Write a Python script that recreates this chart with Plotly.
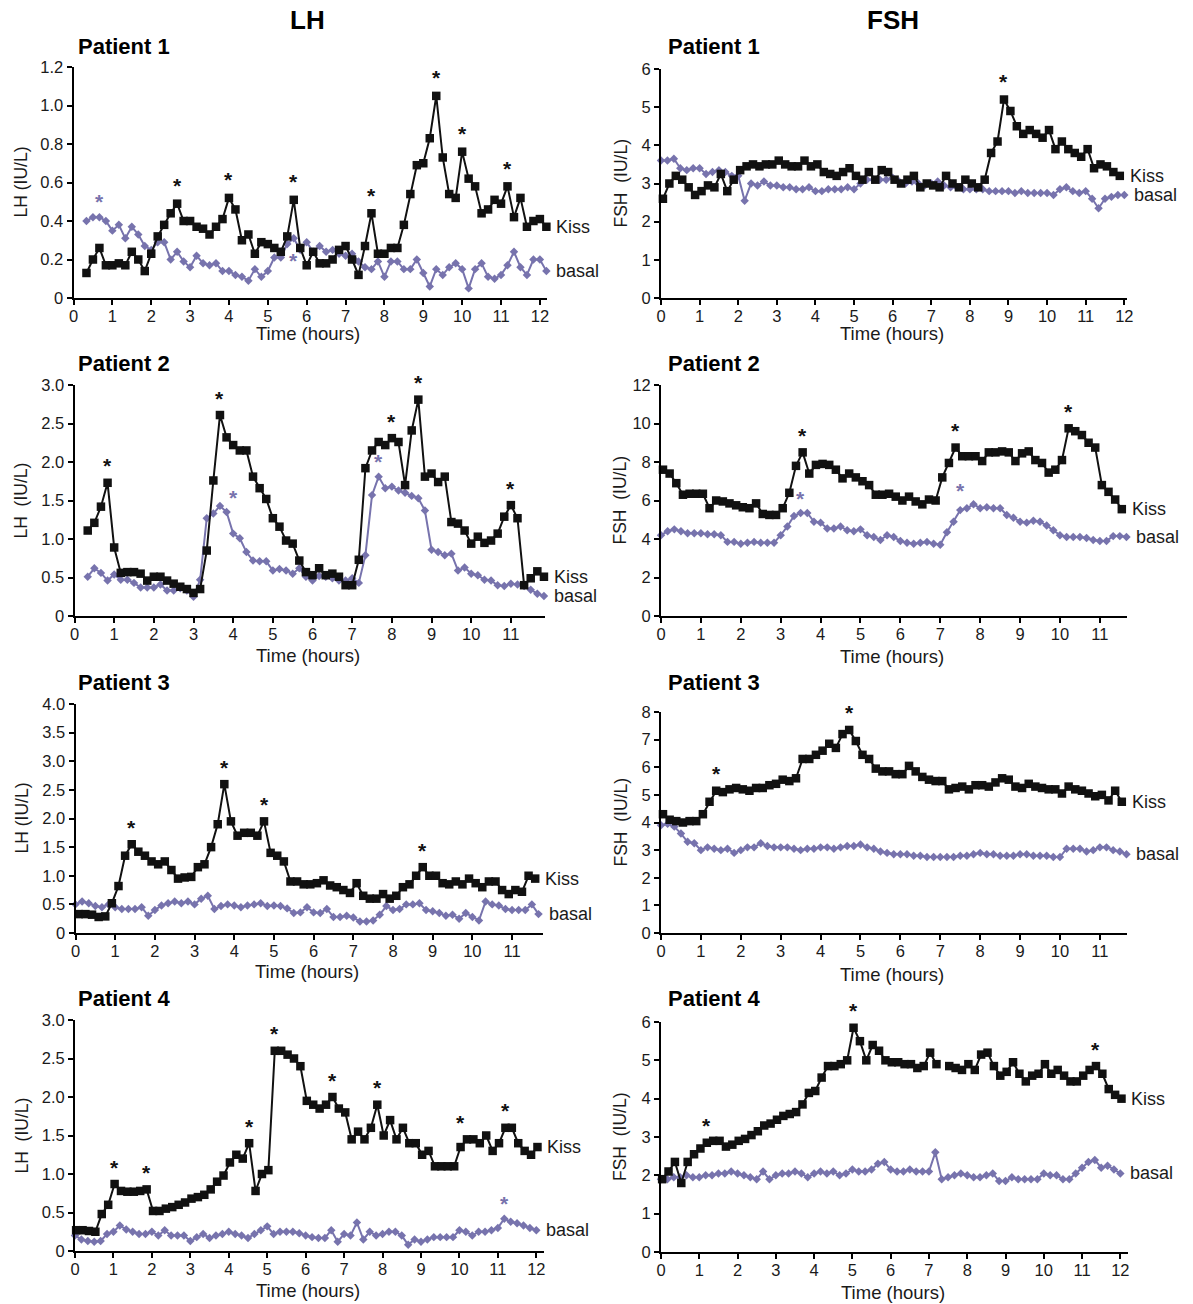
import plotly.graph_objects as go

W, H = 1193, 1304
KISS_COLOR = "#111111"
BASAL_COLOR = "#7773ad"
FONT = "Liberation Sans, Arial, sans-serif"
STEP = 1 / 6  # samples every ten minutes

# ---------------- LH ----------------
lh1_kiss_start = 1 / 3
lh1_kiss = [0.13, 0.20, 0.26, 0.17, 0.17, 0.18, 0.17, 0.24, 0.20, 0.14,
            0.23, 0.32, 0.38, 0.44, 0.49, 0.40, 0.40, 0.37, 0.36, 0.33,
            0.37, 0.41, 0.52, 0.46, 0.30, 0.33, 0.23, 0.29, 0.28, 0.26,
            0.24, 0.32, 0.51, 0.26, 0.17, 0.24, 0.18, 0.18, 0.20, 0.25,
            0.27, 0.20, 0.12, 0.27, 0.44, 0.23, 0.23, 0.26, 0.26, 0.38,
            0.54, 0.69, 0.70, 0.83, 1.05, 0.73, 0.54, 0.52, 0.76, 0.62,
            0.58, 0.44, 0.46, 0.51, 0.49, 0.58, 0.42, 0.52, 0.37, 0.40,
            0.41, 0.37]
lh1_basal_start = 1 / 3
lh1_basal = [0.40, 0.42, 0.42, 0.40, 0.35, 0.38, 0.31, 0.37, 0.33, 0.27,
             0.25, 0.29, 0.29, 0.20, 0.24, 0.19, 0.16, 0.22, 0.18, 0.17,
             0.18, 0.14, 0.14, 0.12, 0.11, 0.09, 0.15, 0.11, 0.14, 0.21,
             0.21, 0.28, 0.31, 0.25, 0.29, 0.24, 0.27, 0.24, 0.25, 0.23,
             0.22, 0.23, 0.19, 0.16, 0.15, 0.19, 0.11, 0.19, 0.19, 0.15,
             0.15, 0.20, 0.13, 0.06, 0.15, 0.12, 0.16, 0.18, 0.15, 0.05,
             0.15, 0.18, 0.11, 0.10, 0.12, 0.17, 0.24, 0.16, 0.12, 0.20,
             0.20, 0.14]

lh2_kiss_start = 1 / 3
lh2_kiss = [1.11, 1.21, 1.42, 1.73, 0.89, 0.56, 0.57, 0.57, 0.55, 0.46,
            0.51, 0.51, 0.46, 0.42, 0.38, 0.35, 0.30, 0.35, 0.85, 1.76,
            2.61, 2.32, 2.22, 2.15, 2.15, 1.81, 1.66, 1.52, 1.27, 1.16,
            0.98, 0.94, 0.72, 0.57, 0.53, 0.62, 0.53, 0.55, 0.51, 0.40,
            0.40, 0.73, 1.92, 2.15, 2.26, 2.22, 2.31, 2.26, 1.70, 2.41,
            2.81, 1.81, 1.85, 1.74, 1.81, 1.22, 1.20, 1.11, 0.94, 1.03,
            0.95, 0.98, 1.07, 1.29, 1.44, 1.27, 0.40, 0.49, 0.58, 0.51]
lh2_basal_start = 1 / 3
lh2_basal = [0.51, 0.62, 0.56, 0.46, 0.54, 0.47, 0.47, 0.43, 0.37, 0.37,
             0.37, 0.41, 0.33, 0.33, 0.36, 0.33, 0.25, 0.47, 1.27, 1.33,
             1.43, 1.35, 1.07, 1.01, 0.83, 0.72, 0.71, 0.71, 0.59, 0.61,
             0.59, 0.55, 0.62, 0.51, 0.46, 0.52, 0.51, 0.49, 0.46, 0.46,
             0.49, 0.43, 0.79, 1.57, 1.81, 1.66, 1.68, 1.63, 1.60, 1.56,
             1.53, 1.37, 0.86, 0.83, 0.79, 0.81, 0.59, 0.63, 0.55, 0.53,
             0.47, 0.46, 0.40, 0.39, 0.42, 0.41, 0.39, 0.34, 0.29, 0.26]

lh3_kiss_start = 1 / 12
lh3_kiss = [0.33, 0.33, 0.32, 0.28, 0.29, 0.52, 0.82, 1.35, 1.55, 1.42,
            1.35, 1.25, 1.20, 1.25, 1.10, 0.95, 0.97, 0.98, 1.15, 1.20,
            1.50, 1.90, 2.60, 1.95, 1.70, 1.75, 1.75, 1.70, 1.95, 1.40,
            1.35, 1.25, 0.90, 0.90, 0.85, 0.85, 0.87, 0.92, 0.83, 0.80,
            0.75, 0.70, 0.87, 0.65, 0.60, 0.60, 0.68, 0.60, 0.65, 0.80,
            0.85, 1.00, 1.15, 1.00, 1.00, 0.87, 0.85, 0.90, 0.85, 0.95,
            0.87, 0.80, 0.90, 0.90, 0.75, 0.68, 0.75, 0.72, 1.00, 0.95]
lh3_basal_start = 0.0
lh3_basal = [0.50, 0.55, 0.52, 0.47, 0.45, 0.50, 0.45, 0.42, 0.42, 0.42,
             0.45, 0.30, 0.40, 0.48, 0.52, 0.55, 0.52, 0.55, 0.50, 0.60,
             0.65, 0.42, 0.47, 0.50, 0.48, 0.45, 0.48, 0.50, 0.52, 0.47,
             0.48, 0.47, 0.43, 0.35, 0.36, 0.45, 0.36, 0.35, 0.42, 0.28,
             0.28, 0.30, 0.27, 0.20, 0.20, 0.22, 0.32, 0.47, 0.40, 0.42,
             0.50, 0.50, 0.52, 0.40, 0.38, 0.35, 0.30, 0.32, 0.25, 0.35,
             0.28, 0.22, 0.55, 0.50, 0.48, 0.42, 0.40, 0.40, 0.40, 0.50,
             0.33]

lh4_kiss_start = 0.03
lh4_kiss = [0.27, 0.27, 0.26, 0.25, 0.48, 0.60, 0.87, 0.78, 0.77, 0.77,
            0.78, 0.80, 0.52, 0.52, 0.55, 0.57, 0.60, 0.63, 0.68, 0.70,
            0.73, 0.80, 0.90, 0.98, 1.15, 1.25, 1.20, 1.40, 0.78, 1.00,
            1.05, 2.60, 2.60, 2.55, 2.50, 2.40, 1.95, 1.90, 1.85, 1.90,
            2.00, 1.85, 1.80, 1.45, 1.55, 1.45, 1.60, 1.90, 1.50, 1.70,
            1.45, 1.60, 1.40, 1.40, 1.25, 1.30, 1.10, 1.10, 1.10, 1.10,
            1.35, 1.45, 1.45, 1.40, 1.50, 1.30, 1.40, 1.60, 1.60, 1.40,
            1.30, 1.25, 1.35]
lh4_basal_start = 0.0
lh4_basal = [0.20, 0.15, 0.13, 0.12, 0.13, 0.22, 0.25, 0.33, 0.28, 0.25,
             0.22, 0.22, 0.25, 0.20, 0.27, 0.20, 0.20, 0.20, 0.13, 0.18,
             0.22, 0.17, 0.20, 0.22, 0.25, 0.22, 0.20, 0.17, 0.22, 0.27,
             0.32, 0.22, 0.25, 0.25, 0.25, 0.23, 0.20, 0.18, 0.17, 0.17,
             0.27, 0.12, 0.22, 0.20, 0.37, 0.15, 0.25, 0.20, 0.22, 0.25,
             0.25, 0.20, 0.08, 0.15, 0.12, 0.15, 0.18, 0.18, 0.18, 0.18,
             0.27, 0.25, 0.20, 0.25, 0.25, 0.27, 0.30, 0.42, 0.38, 0.36,
             0.33, 0.30, 0.27]

# ---------------- FSH ----------------
fsh1_kiss_start = 0.05
fsh1_kiss = [2.6, 3.0, 3.2, 3.1, 2.9, 2.7, 2.8, 2.95, 2.9, 3.25,
             2.8, 3.1, 3.35, 3.45, 3.5, 3.45, 3.5, 3.5, 3.6, 3.5,
             3.45, 3.45, 3.6, 3.45, 3.5, 3.3, 3.25, 3.2, 3.3, 3.4,
             3.2, 3.1, 3.3, 3.1, 3.35, 3.3, 3.1, 3.0, 3.1, 3.2,
             2.9, 3.0, 2.95, 2.9, 3.2, 3.0, 2.9, 3.1, 3.0, 2.9,
             3.1, 3.8, 4.1, 5.2, 4.9, 4.5, 4.3, 4.4, 4.3, 4.2,
             4.4, 3.9, 4.1, 3.9, 3.8, 3.7, 3.9, 3.4, 3.5, 3.45,
             3.3, 3.2]
fsh1_basal_start = 0.0
fsh1_basal = [3.6, 3.6, 3.65, 3.4, 3.35, 3.4, 3.4, 3.25, 3.3, 3.35,
              3.3, 3.2, 3.2, 2.55, 3.0, 2.95, 3.05, 2.95, 2.95, 2.9,
              2.9, 2.85, 2.85, 2.9, 2.8, 2.8, 2.85, 2.85, 2.85, 2.9,
              2.85, 3.0, 3.1, 3.1, 3.1, 3.1, 3.15, 3.05, 3.0, 3.05,
              3.0, 2.95, 3.0, 3.05, 2.95, 2.9, 2.9, 2.85, 2.85, 2.85,
              2.85, 2.8, 2.8, 2.8, 2.8, 2.75, 2.8, 2.75, 2.75, 2.75,
              2.75, 2.7, 2.85, 2.9, 2.8, 2.75, 2.8, 2.6, 2.35, 2.6,
              2.65, 2.7, 2.7]

fsh2_kiss_start = 0.05
fsh2_kiss = [7.6, 7.4, 6.9, 6.3, 6.35, 6.35, 6.35, 5.6, 6.0, 5.95,
             5.85, 5.75, 5.65, 5.6, 5.85, 5.3, 5.25, 5.25, 5.6, 6.4,
             7.8, 8.5, 7.4, 7.85, 7.9, 7.85, 7.6, 7.15, 7.4, 7.2,
             7.0, 6.8, 6.3, 6.3, 6.35, 6.2, 6.0, 6.2, 5.95, 5.8,
             6.05, 6.0, 7.2, 7.95, 8.75, 8.3, 8.3, 8.3, 8.05, 8.5,
             8.5, 8.55, 8.5, 8.05, 8.45, 8.55, 8.1, 7.95, 7.45, 7.6,
             8.1, 9.75, 9.6, 9.4, 9.0, 8.75, 6.8, 6.45, 6.05, 5.55]
fsh2_basal_start = 0.0
fsh2_basal = [4.2, 4.4, 4.5, 4.4, 4.3, 4.3, 4.3, 4.25, 4.25, 4.2,
              3.85, 3.85, 3.75, 3.8, 3.85, 3.8, 3.8, 3.8, 4.2, 4.65,
              5.2, 5.35, 5.35, 4.9, 4.85, 4.55, 4.55, 4.65, 4.45, 4.4,
              4.5, 4.2, 4.1, 3.95, 4.2, 4.1, 3.9, 3.8, 3.75, 3.8,
              3.85, 3.75, 3.7, 4.35, 4.9, 5.5, 5.6, 5.8, 5.6, 5.65,
              5.6, 5.6, 5.25, 5.1, 4.9, 4.85, 4.95, 4.9, 4.7, 4.45,
              4.2, 4.1, 4.1, 4.1, 4.05, 3.95, 3.9, 3.9, 4.15, 4.15,
              4.1]

fsh3_kiss_start = 0.05
fsh3_kiss = [4.3, 4.1, 4.05, 4.0, 4.05, 4.05, 4.3, 4.75, 5.15, 5.1,
             5.2, 5.25, 5.2, 5.15, 5.25, 5.25, 5.35, 5.4, 5.55, 5.5,
             5.6, 6.3, 6.3, 6.45, 6.6, 6.85, 6.7, 7.2, 7.35, 6.95,
             6.45, 6.3, 5.95, 5.85, 5.85, 5.75, 5.75, 6.05, 5.85, 5.65,
             5.55, 5.5, 5.5, 5.2, 5.25, 5.3, 5.2, 5.35, 5.35, 5.3,
             5.45, 5.6, 5.55, 5.3, 5.25, 5.4, 5.3, 5.25, 5.2, 5.2,
             5.05, 5.3, 5.2, 5.15, 5.05, 4.95, 5.0, 4.8, 5.15, 4.75]
fsh3_basal_start = 0.0
fsh3_basal = [3.9, 3.95, 3.85, 3.6, 3.3, 3.25, 3.0, 3.1, 3.05, 3.0,
              3.05, 2.9, 3.0, 3.1, 3.1, 3.25, 3.15, 3.1, 3.1, 3.1,
              3.05, 3.0, 3.05, 3.05, 3.1, 3.1, 3.05, 3.1, 3.15, 3.15,
              3.2, 3.1, 3.05, 2.95, 2.9, 2.85, 2.85, 2.85, 2.8, 2.8,
              2.75, 2.75, 2.75, 2.75, 2.75, 2.8, 2.8, 2.85, 2.9, 2.85,
              2.85, 2.8, 2.8, 2.8, 2.85, 2.85, 2.8, 2.8, 2.8, 2.75,
              2.75, 3.05, 3.05, 3.05, 2.95, 3.0, 3.1, 3.1, 3.0, 2.95,
              2.85]

fsh4_kiss_start = 0.03
fsh4_kiss = [1.9, 2.1, 2.35, 1.8, 2.35, 2.55, 2.7, 2.85, 2.9, 2.9,
             2.75, 2.8, 2.9, 2.95, 3.05, 3.15, 3.3, 3.35, 3.45, 3.55,
             3.6, 3.65, 3.85, 4.15, 4.2, 4.55, 4.85, 4.85, 4.9, 5.0,
             5.85, 5.5, 5.0, 5.4, 5.25, 5.0, 4.95, 4.95, 4.9, 4.9,
             4.8, 4.85, 5.2, 4.9, None, 4.85, 4.8, 4.75, 4.9, 4.75,
             5.15, 5.2, 4.85, 4.6, 4.7, 4.95, 4.65, 4.45, 4.6, 4.65,
             4.9, 4.65, 4.75, 4.6, 4.45, 4.45, 4.6, 4.75, 4.85, 4.65,
             4.25, 4.1, 4.0]
fsh4_basal_start = 0.0
fsh4_basal = [1.9, 1.9, 1.95, 1.95, 2.0, 1.95, 1.95, 2.0, 2.0, 2.05,
              2.05, 2.1, 2.05, 2.0, 1.95, 1.9, 2.1, 1.9, 2.0, 2.05,
              2.05, 2.1, 2.05, 1.95, 2.05, 2.1, 2.05, 2.1, 2.0, 2.05,
              2.15, 2.1, 2.1, 2.15, 2.3, 2.35, 2.15, 2.1, 2.1, 2.15,
              2.1, 2.1, 2.1, 2.6, 1.9, 1.95, 2.0, 2.05, 2.0, 1.95,
              1.95, 2.0, 2.05, 1.85, 1.85, 1.95, 1.9, 1.9, 1.9, 1.9,
              2.05, 2.0, 2.0, 1.9, 1.9, 2.05, 2.2, 2.35, 2.4, 2.2,
              2.25, 2.15, 2.05]

# axis tick labels
lh_ticks_fine = [0, 0.2, 0.4, 0.6, 0.8, 1.0, 1.2]
lh_ticks_fine_text = ["0", "0.2", "0.4", "0.6", "0.8", "1.0", "1.2"]
lh_ticks_3 = [0, 0.5, 1.0, 1.5, 2.0, 2.5, 3.0]
lh_ticks_3_text = ["0", "0.5", "1.0", "1.5", "2.0", "2.5", "3.0"]
lh_ticks_4 = [0, 0.5, 1.0, 1.5, 2.0, 2.5, 3.0, 3.5, 4.0]
lh_ticks_4_text = ["0", "0.5", "1.0", "1.5", "2.0", "2.5", "3.0", "3.5", "4.0"]
fsh_ticks_6 = [0, 1, 2, 3, 4, 5, 6]
fsh_ticks_8 = [0, 1, 2, 3, 4, 5, 6, 7, 8]
fsh_ticks_12 = [0, 2, 4, 6, 8, 10, 12]
hours_12 = list(range(13))
hours_11 = list(range(12))

# significant pulses: (series, time, vertical offset of the asterisk in px)
lh1_stars = [("kiss", 2.67, 19), ("kiss", 4.0, 19), ("kiss", 5.67, 19), ("kiss", 7.67, 19),
             ("kiss", 9.33, 19), ("kiss", 10.0, 19), ("kiss", 11.17, 19),
             ("basal", 0.67, 17), ("basal", 5.67, -21)]
lh2_stars = [("kiss", 0.83, 18), ("kiss", 3.67, 18), ("kiss", 8.0, 18), ("kiss", 8.67, 18),
             ("kiss", 11.0, 18), ("basal", 4.0, 37), ("basal", 7.67, 16)]
lh3_stars = [("kiss", 1.42, 18), ("kiss", 3.75, 18), ("kiss", 4.75, 18), ("kiss", 8.75, 18)]
lh4_stars = [("kiss", 1.03, 18), ("kiss", 1.87, 18), ("kiss", 4.53, 18), ("kiss", 5.2, 18),
             ("kiss", 6.7, 18), ("kiss", 7.87, 18), ("kiss", 10.03, 26), ("kiss", 11.2, 18),
             ("basal", 11.17, 16)]
fsh1_stars = [("kiss", 8.88, 19)]
fsh2_stars = [("kiss", 3.55, 18), ("kiss", 7.38, 18), ("kiss", 10.22, 18),
              ("basal", 3.5, 16), ("basal", 7.5, 21)]
fsh3_stars = [("kiss", 1.38, 18), ("kiss", 4.72, 18)]
fsh4_stars = [("kiss", 1.2, 18), ("kiss", 5.03, 18), ("kiss", 11.37, 18)]


def times(start, n):
    return [start + i * STEP for i in range(n)]


def px_x(px):
    """page x pixel -> paper fraction"""
    return px / W


def px_y(py):
    """page y pixel (from top) -> paper fraction"""
    return 1 - py / H


# panel layout in page pixels: (left, right) of x axis, (top, bottom) of y axis
panels = [
    dict(kiss=(lh1_kiss_start, lh1_kiss), basal=(lh1_basal_start, lh1_basal),
         xpx=(73.5, 546.5), ypx=(67, 298), xmax=12.17, xt=hours_12,
         yt=lh_ticks_fine, ytt=lh_ticks_fine_text, ymax=1.2,
         title="Patient 1", ytitle="LH (IU/L)", stars=lh1_stars, ttl_x=76, ttl_y=46, time_y=333),
    dict(kiss=(fsh1_kiss_start, fsh1_kiss), basal=(fsh1_basal_start, fsh1_basal),
         xpx=(661, 1127), ypx=(69, 298), xmax=12.07, xt=hours_12,
         yt=fsh_ticks_6, ytt=[str(v) for v in fsh_ticks_6], ymax=6,
         title="Patient 1", ytitle="FSH\u00a0 (IU/L)", stars=fsh1_stars, ttl_x=666, ttl_y=46, time_y=333),
    dict(kiss=(lh2_kiss_start, lh2_kiss), basal=(lh2_basal_start, lh2_basal),
         xpx=(74.5, 545), ypx=(385, 616), xmax=11.86, xt=hours_11,
         yt=lh_ticks_3, ytt=lh_ticks_3_text, ymax=3.0,
         title="Patient 2", ytitle="LH\u00a0 (IU/L)", stars=lh2_stars, ttl_x=76, ttl_y=363, time_y=655),
    dict(kiss=(fsh2_kiss_start, fsh2_kiss), basal=(fsh2_basal_start, fsh2_basal),
         xpx=(661, 1127), ypx=(385, 616), xmax=11.68, xt=hours_11,
         yt=fsh_ticks_12, ytt=[str(v) for v in fsh_ticks_12], ymax=12,
         title="Patient 2", ytitle="FSH\u00a0 (IU/L)", stars=fsh2_stars, ttl_x=666, ttl_y=363, time_y=656),
    dict(kiss=(lh3_kiss_start, lh3_kiss), basal=(lh3_basal_start, lh3_basal),
         xpx=(75.5, 543), ypx=(704, 933), xmax=11.78, xt=hours_11,
         yt=lh_ticks_4, ytt=lh_ticks_4_text, ymax=4.0,
         title="Patient 3", ytitle="LH (IU/L)", stars=lh3_stars, ttl_x=76, ttl_y=682, time_y=971),
    dict(kiss=(fsh3_kiss_start, fsh3_kiss), basal=(fsh3_basal_start, fsh3_basal),
         xpx=(661, 1127), ypx=(712, 933), xmax=11.68, xt=hours_11,
         yt=fsh_ticks_8, ytt=[str(v) for v in fsh_ticks_8], ymax=8,
         title="Patient 3", ytitle="FSH\u00a0 (IU/L)", stars=fsh3_stars, ttl_x=666, ttl_y=682, time_y=974),
    dict(kiss=(lh4_kiss_start, lh4_kiss), basal=(lh4_basal_start, lh4_basal),
         xpx=(75, 544), ypx=(1020, 1251), xmax=12.2, xt=hours_12,
         yt=lh_ticks_3, ytt=lh_ticks_3_text, ymax=3.0,
         title="Patient 4", ytitle="LH\u00a0 (IU/L)", stars=lh4_stars, ttl_x=76, ttl_y=998, time_y=1290),
    dict(kiss=(fsh4_kiss_start, fsh4_kiss), basal=(fsh4_basal_start, fsh4_basal),
         xpx=(661, 1128), ypx=(1022, 1252), xmax=12.2, xt=hours_12,
         yt=fsh_ticks_6, ytt=[str(v) for v in fsh_ticks_6], ymax=6,
         title="Patient 4", ytitle="FSH\u00a0 (IU/L)", stars=fsh4_stars, ttl_x=666, ttl_y=998, time_y=1292),
]

fig = go.Figure()
annotations = []
layout = {}


def last_valid(ts, vs):
    for t, v in zip(reversed(ts), reversed(vs)):
        if v is not None:
            return t, v


for k, p in enumerate(panels, start=1):
    sfx = "" if k == 1 else str(k)
    xa, ya = "x" + sfx, "y" + sfx

    kt = times(p["kiss"][0], len(p["kiss"][1]))
    kv = p["kiss"][1]
    bt = times(p["basal"][0], len(p["basal"][1]))
    bv = p["basal"][1]

    fig.add_trace(go.Scatter(
        x=bt, y=bv, xaxis=xa, yaxis=ya, mode="lines+markers",
        line=dict(color=BASAL_COLOR, width=2),
        marker=dict(symbol="diamond", size=6.5, color=BASAL_COLOR),
        cliponaxis=False, showlegend=False, hoverinfo="skip"))
    fig.add_trace(go.Scatter(
        x=kt, y=kv, xaxis=xa, yaxis=ya, mode="lines+markers",
        line=dict(color=KISS_COLOR, width=2),
        marker=dict(symbol="square", size=8.5, color=KISS_COLOR),
        cliponaxis=False, showlegend=False, hoverinfo="skip"))

    l, r = p["xpx"]
    top, bot = p["ypx"]
    axis_common = dict(showline=True, linecolor="black", linewidth=1.8,
                       ticks="outside", ticklen=5, tickwidth=1.6, tickcolor="black",
                       showgrid=False, zeroline=False, automargin=False,
                       tickfont=dict(family=FONT, size=16.5, color="#1a1a1a"))
    layout["xaxis" + sfx] = dict(domain=[px_x(l), px_x(r)], range=[0, p["xmax"]], anchor=ya,
                                 tickmode="array", tickvals=p["xt"], ticklabelstandoff=-3,
                                 ticktext=[str(v) for v in p["xt"]], **axis_common)
    layout["yaxis" + sfx] = dict(domain=[px_y(bot), px_y(top)], range=[0, p["ymax"]],
                                 anchor=xa, tickmode="array", tickvals=p["yt"],
                                 ticktext=p["ytt"], **axis_common)

    # series labels at the end of each trace
    for (ts, vs, name) in ((kt, kv, "Kiss"), (bt, bv, "basal")):
        t_end, v_end = last_valid(ts, vs)
        annotations.append(dict(x=t_end, y=v_end, xref=xa, yref=ya, text=name,
                                showarrow=False, xanchor="left", yanchor="middle", xshift=8,
                                font=dict(family=FONT, size=18, color="#1a1a1a")))

    # significance asterisks
    for series, t_star, shift in p["stars"]:
        ts, vs, col = (kt, kv, KISS_COLOR) if series == "kiss" else (bt, bv, BASAL_COLOR)
        idx = min(range(len(ts)), key=lambda i: abs(ts[i] - t_star))
        annotations.append(dict(x=ts[idx], y=vs[idx], xref=xa, yref=ya, text="<b>*</b>",
                                showarrow=False, xanchor="center", yanchor="middle",
                                yshift=shift - 1,
                                font=dict(family=FONT, size=21, color=col)))

    # panel title, axis titles
    annotations.append(dict(x=px_x(p["ttl_x"]), y=px_y(p["ttl_y"]), xref="paper", yref="paper",
                            text="<b>" + p["title"] + "</b>", showarrow=False,
                            xanchor="left", yanchor="middle",
                            font=dict(family=FONT, size=22, color="black")))
    annotations.append(dict(x=px_x((l + r) / 2 - 2), y=px_y(p["time_y"]), xref="paper",
                            yref="paper", text="Time (hours)", showarrow=False,
                            xanchor="center", yanchor="middle",
                            font=dict(family=FONT, size=18.5, color="#1a1a1a")))
    ytitle_x = 21 if l < 300 else 620
    annotations.append(dict(x=px_x(ytitle_x), y=px_y((top + bot) / 2), xref="paper",
                            yref="paper", text=p["ytitle"], showarrow=False, textangle=-90,
                            xanchor="center", yanchor="middle",
                            font=dict(family=FONT, size=17.5, color="#1a1a1a")))

# column headers
for text, xc in (("LH", 307), ("FSH", 893)):
    annotations.append(dict(x=px_x(xc), y=px_y(20), xref="paper", yref="paper",
                            text="<b>" + text + "</b>", showarrow=False,
                            xanchor="center", yanchor="middle",
                            font=dict(family=FONT, size=26, color="black")))

fig.update_layout(width=W, height=H, margin=dict(l=0, r=0, t=0, b=0, pad=0, autoexpand=False),
                  paper_bgcolor="white", plot_bgcolor="white",
                  annotations=annotations, **layout)

fig.write_html("out.html")
